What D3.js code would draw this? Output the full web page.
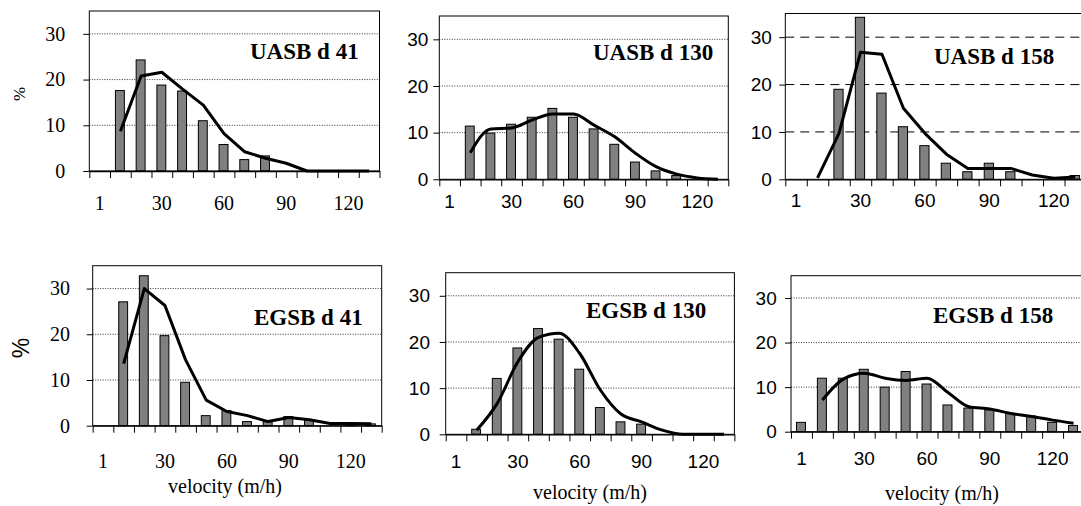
<!DOCTYPE html>
<html>
<head>
  <meta charset="utf-8">
  <title>velocity distributions</title>
  <script src="https://cdn.jsdelivr.net/npm/d3@7"></script>
  <style>
    body { margin: 0; background: #fff; }
  </style>
</head>
<body>
<script>
// velocity classes (m/h), only some of them get a label
const cats = [1, 10, 20, 30, 40, 50, 60, 70, 80, 90, 100, 110, 120, 130];
const tickCats = [1, 30, 60, 90, 120];
const yTicks = [0, 10, 20, 30];
const gridVals = [10, 20, 30];

// bars = measured %, line = fitted %
const uasb41Bars = [null, 17.6, 24.3, 18.8, 17.5, 11, 5.8, 2.5, 3.3, 0, 0, 0, 0, 0];
const uasb41Line = [null, 8.7, 20.8, 21.6, 17.9, 14.4, 8.2, 4.2, 2.8, 1.7, 0, 0, 0, 0];
const uasb130Bars = [null, 11.4, 9.9, 11.8, 13.3, 15.2, 13.3, 10.8, 7.5, 3.7, 1.8, 0.8, 0, 0];
const uasb130Line = [null, 5.7, 10.8, 11, 12.7, 14, 14, 11.6, 9.1, 5.6, 2.7, 1.1, 0.3, 0];
const uasb158Bars = [null, null, 19, 34.2, 18.2, 11.1, 7.1, 3.4, 1.6, 3.4, 1.6, 0, 0, 0.8];
const uasb158Line = [null, 0.3, 9.7, 26.8, 26.4, 15, 9.7, 5.3, 2.3, 2.3, 2.3, 0.9, 0.2, 0.5];
const egsb41Bars = [null, 27.1, 32.8, 19.7, 9.5, 2.2, 3.3, 0.9, 0.9, 2, 1.2, 0, 0.7, 0.4];
const egsb41Line = [null, 13.6, 30, 26.3, 14.4, 5.6, 3.1, 2.2, 0.9, 1.8, 1.3, 0.5, 0.5, 0.4];
const egsb130Bars = [null, 1.1, 12.1, 18.7, 22.9, 20.6, 14.1, 5.8, 2.7, 2.2, 0, 0, 0, 0];
const egsb130Line = [null, 0.9, 6.7, 15.7, 21, 21.9, 17.5, 9.6, 4.4, 2.7, 0.9, 0, 0, 0];
const egsb158Bars = [2.1, 12, 12, 14, 10, 13.5, 10.7, 6, 5.3, 4.9, 4.1, 3.5, 2.1, 1.4];
const egsb158Line = [null, 7.1, 11.8, 13.1, 12, 11.5, 12, 8.8, 5.6, 5.1, 4.1, 3.4, 2.6, 1.9];

const serif = "'Liberation Serif', 'Times New Roman', serif";
const sans = "'Liberation Sans', Arial, sans-serif";

// one entry per panel (layout only, values come from the arrays above)
const panels = [
  {title: "UASB d 41", bars: uasb41Bars, line: uasb41Line, left: 89.3, top: 11, right: 379.5, bottom: 171,
   serif: true, smooth: false, dashed: false, tx: 250, ty: 58.5, yGap: 24, xBase: 39},
  {title: "UASB d 130", bars: uasb130Bars, line: uasb130Line, left: 439.3, top: 16, right: 728.3, bottom: 179.3,
   serif: false, smooth: true, dashed: false, tx: 593, ty: 60, yGap: 11, xBase: 28.5},
  {title: "UASB d 158", bars: uasb158Bars, line: uasb158Line, left: 785.3, top: 13.5, right: 1086, bottom: 179.3,
   serif: false, smooth: false, dashed: true, tx: 934, ty: 64, yGap: 13.5, xBase: 28},
  {title: "EGSB d 41", bars: egsb41Bars, line: egsb41Line, left: 92.7, top: 265.7, right: 381.7, bottom: 425.7,
   serif: true, smooth: false, dashed: false, tx: 254, ty: 325, yGap: 22.7, xBase: 42.5},
  {title: "EGSB d 130", bars: egsb130Bars, line: egsb130Line, left: 445.7, top: 272.7, right: 734.4, bottom: 434.3,
   serif: false, smooth: true, dashed: false, tx: 586, ty: 318, yGap: 15.7, xBase: 34},
  {title: "EGSB d 158", bars: egsb158Bars, line: egsb158Line, left: 791, top: 275.7, right: 1084, bottom: 431.7,
   serif: false, smooth: true, dashed: false, tx: 933, ty: 323, yGap: 14.3, xBase: 33.5}
];

const svg = d3.select("body").append("svg")
  .attr("width", 1081)
  .attr("height", 506);

panels.forEach(function(p) {
  const x = d3.scaleBand().domain(cats).range([p.left, p.right]);
  const edge = d3.scaleLinear().domain([0, cats.length]).range([p.left, p.right]);
  const y = d3.scaleLinear().domain([0, 35]).range([p.bottom, p.top]);
  const font = p.serif ? serif : sans;
  const g = svg.append("g");

  // grid lines
  g.append("g").selectAll("line")
    .data(gridVals)
    .join("line")
      .attr("x1", p.left).attr("x2", p.right)
      .attr("y1", d => y(d)).attr("y2", d => y(d))
      .attr("stroke", p.dashed ? "#000" : "#333")
      .attr("stroke-width", 1)
      .attr("stroke-dasharray", p.dashed ? "9,6" : "1,1.5");

  // bars
  const bw = x.bandwidth() * 0.43;
  const barData = cats.map((c, i) => ({c: c, v: p.bars[i]})).filter(d => d.v > 0);
  g.append("g").selectAll("rect")
    .data(barData)
    .join("rect")
      .attr("x", d => x(d.c) + x.bandwidth() / 2 - bw / 2 - 0.5)
      .attr("y", d => y(d.v))
      .attr("width", bw)
      .attr("height", d => y(0) - y(d.v))
      .attr("fill", "#808080")
      .attr("stroke", "#000")
      .attr("stroke-width", 1);

  // plot box
  g.append("rect")
    .attr("x", p.left).attr("y", p.top)
    .attr("width", p.right - p.left).attr("height", p.bottom - p.top)
    .attr("fill", "none").attr("stroke", "#000").attr("stroke-width", 1);

  // fitted line
  const lineData = cats.map((c, i) => ({c: c, v: p.line[i]})).filter(d => d.v != null);
  const line = d3.line()
    .x(d => x(d.c) + x.bandwidth() / 2)
    .y(d => y(d.v))
    .curve(p.smooth ? d3.curveMonotoneX : d3.curveLinear);
  g.append("path")
    .datum(lineData)
    .attr("d", line)
    .attr("fill", "none")
    .attr("stroke", "#000")
    .attr("stroke-width", 3)
    .attr("stroke-linejoin", "round");

  // y axis
  const ya = g.append("g")
    .attr("transform", `translate(${p.left},0)`)
    .call(d3.axisLeft(y).tickValues(yTicks).tickSize(6).tickPadding(p.yGap - 6).tickSizeOuter(0));
  ya.select(".domain").remove();
  ya.selectAll("text").style("font-family", font).style("font-size", p.serif ? "20px" : "19px").attr("fill", "#000");

  // x axis ticks at class edges
  const xt = g.append("g")
    .attr("transform", `translate(0,${p.bottom})`)
    .call(d3.axisBottom(edge).tickValues(d3.range(0, cats.length + 1)).tickSize(7).tickFormat("").tickSizeOuter(0));
  xt.select(".domain").attr("stroke-width", 1.3);

  // x labels at class centres
  const xl = g.append("g")
    .attr("transform", `translate(0,${p.bottom})`)
    .call(d3.axisBottom(x).tickValues(tickCats).tickSize(0));
  xl.select(".domain").remove();
  xl.selectAll("text")
    .attr("y", p.xBase).attr("dy", null)
    .style("font-family", font).style("font-size", p.serif ? "20px" : "19px").attr("fill", "#000");

  // panel title
  g.append("text")
    .attr("x", p.tx).attr("y", p.ty)
    .style("font-family", serif).style("font-weight", "bold").style("font-size", "23px")
    .text(p.title);
});

// axis titles
svg.append("text")
  .attr("transform", "translate(25,94) rotate(-90)")
  .attr("text-anchor", "middle")
  .style("font-family", serif).style("font-size", "17px")
  .text("%");
svg.append("text")
  .attr("transform", "translate(29,348) rotate(-90)")
  .attr("text-anchor", "middle")
  .style("font-family", sans).style("font-size", "23px")
  .text("%");

const velX = [225, 590, 942];
const velY = [493, 499, 500];
svg.selectAll(".vel")
  .data(velX)
  .join("text")
    .attr("class", "vel")
    .attr("x", d => d)
    .attr("y", (d, i) => velY[i])
    .attr("text-anchor", "middle")
    .style("font-family", serif).style("font-size", "20px")
    .text("velocity (m/h)");
</script>
</body>
</html>
